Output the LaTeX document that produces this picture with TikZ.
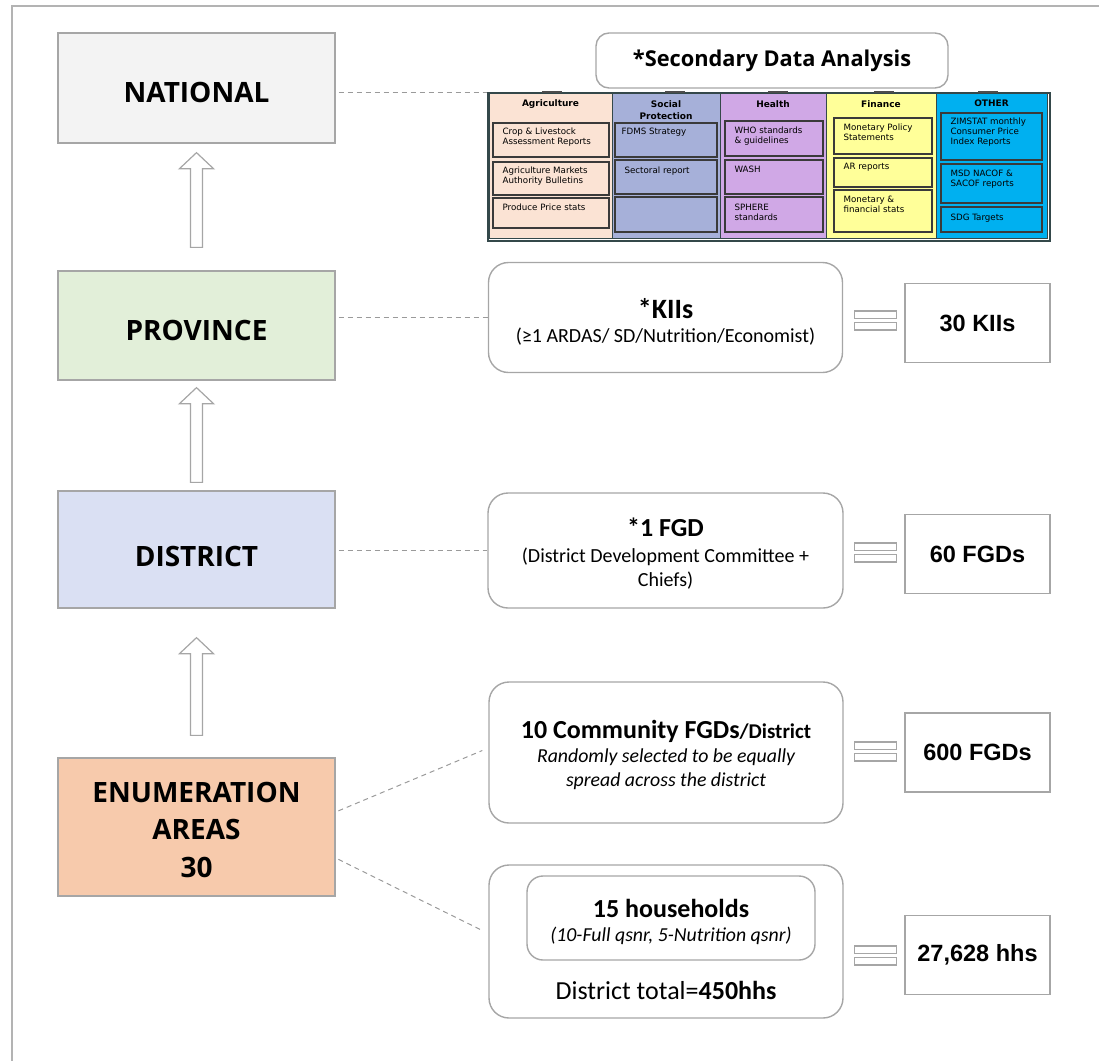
\documentclass[tikz,border=0pt]{standalone}
\usepackage{fontspec}
\setmainfont{Carlito}
\newfontfamily\fOS{Open Sans}
\newfontfamily\fAr{Liberation Sans}
\newfontfamily\fDV{DejaVu Sans}
\usetikzlibrary{calc}
\definecolor{frameg}{HTML}{B3B3B3}
\definecolor{boxg}{HTML}{A6A6A6}
\definecolor{dashg}{HTML}{9A9A9A}
\definecolor{natfill}{HTML}{F3F3F3}
\definecolor{provfill}{HTML}{E2EFD9}
\definecolor{distfill}{HTML}{DAE0F3}
\definecolor{eafill}{HTML}{F7CAAC}
\definecolor{agrc}{HTML}{FBE3D4}
\definecolor{socc}{HTML}{A6B0D9}
\definecolor{heac}{HTML}{D0A8E6}
\definecolor{finc}{HTML}{FFFF99}
\definecolor{othc}{HTML}{00B0F0}
\definecolor{tabline}{HTML}{34484A}
\definecolor{iline}{HTML}{3A3A3A}
\newcommand\blockarrow[2]{%
  \draw[blockarr] let \p1=(#1), \p2=(#2) in
    (\x1,\y1) -- (\x1+17pt,\y1-16pt) -- (\x1+6pt,\y1-16pt) -- (\x1+6pt,\y2)
    -- (\x1-6pt,\y2) -- (\x1-6pt,\y1-16pt) -- (\x1-17pt,\y1-16pt) -- cycle;}
\begin{document}
\begin{tikzpicture}[x=1pt,y=-1pt,
  level/.style={draw=boxg, line width=1.3pt, minimum width=277pt, inner sep=0pt},
  leveltext/.style={inner sep=0pt, align=center, font=\fOS\bfseries\fontsize{28}{37.5}\selectfont},
  blockarr/.style={draw=boxg, line width=1.2pt, fill=white},
  rbox/.style={draw=boxg, line width=1.4pt, fill=white, rounded corners=20pt, inner sep=0pt},
  valbox/.style={draw=boxg, line width=1.4pt, fill=white, minimum width=145pt,
     minimum height=79pt, inner sep=0pt, font=\fAr\bfseries\fontsize{23.5}{27}\selectfont},
  dline/.style={draw=dashg, line width=1pt, dash pattern=on 5pt off 4pt},
  col/.style={draw=tabline, line width=0.8pt, anchor=north west, minimum height=145pt, inner sep=0pt},
  colhead/.style={inner sep=0pt, align=center, font=\fDV\bfseries\fontsize{9}{11.5}\selectfont},
  ibox/.style={draw=iline, line width=1.3pt, inner sep=0pt},
  itext/.style={inner sep=0pt, anchor=north west, align=left, font=\fDV\fontsize{8.7}{10.3}\selectfont},
  tb/.style={inner sep=0pt, font=\bfseries\fontsize{26}{30}\selectfont},
  tn/.style={inner sep=0pt, font=\fontsize{20}{24}\selectfont},
  ti/.style={inner sep=0pt, font=\itshape\fontsize{19.8}{24}\selectfont},
  eqsign/.pic={\draw[draw=boxg, line width=1.2pt, fill=white] (-21,-9.5) rectangle (21,-2)
                (-21,2) rectangle (21,9.5);}
]
\useasboundingbox (0,0) rectangle (1099,1060);
\clip (0,0) rectangle (1099,1060);
\draw[frameg, line width=1.5pt] (12,6) rectangle (1130,1090);

% ---------- level boxes ----------
\node[level, fill=natfill, minimum height=110pt] (nat) at (196.5,88) {};
\node[level, fill=provfill, minimum height=109pt] (prov) at (196.5,325.5) {};
\node[level, fill=distfill, minimum height=117pt] (dist) at (196.5,549.5) {};
\node[level, fill=eafill, minimum height=138pt] (ea) at (196.5,827) {};
\node[leveltext] (natt) at ($(nat.center)+(0,4)$) {NATIONAL};
\node[leveltext] (provt) at ($(prov.center)+(0,4.5)$) {PROVINCE};
\node[leveltext] (distt) at ($(dist.center)+(0,7)$) {DISTRICT};
\node[leveltext] (eat) at ($(ea.center)+(0,2.5)$) {ENUMERATION\\AREAS\\30};

\blockarrow{$(nat.south)+(0,9)$}{$(prov.north)+(0,-23)$}
\blockarrow{$(prov.south)+(0,7)$}{$(dist.north)+(0,-8)$}
\blockarrow{$(dist.south)+(0,29)$}{$(ea.north)+(0,-22)$}

% ---------- secondary data ----------
\node[rbox, rounded corners=13pt, minimum width=352pt, minimum height=55pt,
      font=\fOS\bfseries\fontsize{21.8}{25}\selectfont] (sda) at (772,60.5) {*Secondary Data Analysis};

% columns
\node[col, fill=agrc, minimum width=123pt] (cagr) at (489,93) {};
\node[col, fill=socc, minimum width=108pt] (csoc) at (612,93) {};
\node[col, fill=heac, minimum width=106pt] (chea) at (720,93) {};
\node[col, fill=finc, minimum width=110pt] (cfin) at (826,93) {};
\node[col, fill=othc, minimum width=111pt] (coth) at (936,93) {};

\node[colhead] (hagr) at (550.5,104) {Agriculture};
\node[colhead] (hsoc) at (666,110) {Social\\Protection};
\node[colhead] (hhea) at (773,104) {Health};
\node[colhead] (hfin) at (881,104) {Finance};
\node[colhead] (hoth) at (991.5,103) {OTHER};

% agriculture boxes
\node[ibox, fill=agrc, minimum width=116pt, minimum height=34pt] (a1) at (551,140) {};
\node[ibox, fill=agrc, minimum width=116pt, minimum height=33pt] (a2) at (551,178.5) {};
\node[ibox, fill=agrc, minimum width=116pt, minimum height=30pt] (a3) at (551,213) {};
\node[itext] (a1t) at ($(a1.north west)+(10,5)$) {Crop \& Livestock\\Assessment Reports};
\node[itext] (a2t) at ($(a2.north west)+(10,5)$) {Agriculture Markets\\Authority Bulletins};
\node[itext] (a3t) at ($(a3.north west)+(10,6)$) {Produce Price stats};
% social protection boxes
\node[ibox, fill=socc, minimum width=102pt, minimum height=34pt] (s1) at (666,140) {};
\node[ibox, fill=socc, minimum width=102pt, minimum height=34pt] (s2) at (666,177) {};
\node[ibox, fill=socc, minimum width=102pt, minimum height=35pt] (s3) at (666,214.5) {};
\node[itext] (s1t) at ($(s1.north west)+(7,5)$) {FDMS Strategy};
\node[itext] (s2t) at ($(s2.north west)+(10,7)$) {Sectoral report};
% health boxes
\node[ibox, fill=heac, minimum width=98pt, minimum height=35pt] (h1) at (774,138.5) {};
\node[ibox, fill=heac, minimum width=98pt, minimum height=34pt] (h2) at (774,177) {};
\node[ibox, fill=heac, minimum width=98pt, minimum height=35pt] (h3) at (774,214.5) {};
\node[itext] (h1t) at ($(h1.north west)+(10,6)$) {WHO standards\\\& guidelines};
\node[itext] (h2t) at ($(h2.north west)+(10,6)$) {WASH};
\node[itext] (h3t) at ($(h3.north west)+(10,7)$) {SPHERE\\standards};
% finance boxes
\node[ibox, fill=finc, minimum width=98pt, minimum height=36pt] (f1) at (883,136) {};
\node[ibox, fill=finc, minimum width=98pt, minimum height=29pt] (f2) at (883,172.5) {};
\node[ibox, fill=finc, minimum width=98pt, minimum height=42pt] (f3) at (883,211) {};
\node[itext] (f1t) at ($(f1.north west)+(10,6)$) {Monetary Policy\\Statements};
\node[itext] (f2t) at ($(f2.north west)+(10,6)$) {AR reports};
\node[itext] (f3t) at ($(f3.north west)+(10,6)$) {Monetary \&\\financial stats};
% other boxes
\node[ibox, fill=othc, minimum width=101pt, minimum height=47pt] (o1) at (991.5,136.5) {};
\node[ibox, fill=othc, minimum width=101pt, minimum height=39pt] (o2) at (991.5,183.5) {};
\node[ibox, fill=othc, minimum width=101pt, minimum height=25pt] (o3) at (991.5,219.5) {};
\node[itext] (o1t) at ($(o1.north west)+(10,5)$) {ZIMSTAT monthly\\Consumer Price\\Index Reports};
\node[itext] (o2t) at ($(o2.north west)+(10,6)$) {MSD NACOF \&\\SACOF reports};
\node[itext] (o3t) at ($(o3.north west)+(10,7)$) {SDG Targets};

% table frame
\node[draw=tabline, line width=2pt, anchor=north west, minimum width=562pt,
      minimum height=148pt, inner sep=0pt] (tab) at (487,92) {};
\foreach \xx in {542,665,768,874,978}
  \fill[gray!60!black] (\xx,90.5) rectangle ++(20,2.5);

% ---------- right side boxes ----------
\node[rbox, minimum width=354pt, minimum height=110pt] (kii) at (665.5,317.5) {};
\node[tb, font=\bfseries\fontsize{28}{32}\selectfont] (kiit1) at ($(kii.center)+(0,-9)$) {*KIIs};
\node[tn] (kiit2) at ($(kii.center)+(0,19)$) {(≥1 ARDAS/ SD/Nutrition/Economist)};

\node[rbox, minimum width=355pt, minimum height=115pt] (fgd) at (665.5,550.5) {};
\node[tb] (fgdt1) at ($(fgd.center)+(0,-23)$) {*1 FGD};
\node[tn] (fgdt2) at ($(fgd.center)+(0,6)$) {(District Development Committee +};
\node[tn] (fgdt3) at ($(fgd.center)+(0,30)$) {Chiefs)};

\node[rbox, minimum width=354pt, minimum height=141pt] (comm) at (666,752.5) {};
\node[tb] (commt1) at ($(comm.center)+(0,-21.5)$)
   {10 Community FGDs{\fontsize{21}{24}\selectfont/District}};
\node[ti] (commt2) at ($(comm.center)+(0,4.5)$) {Randomly selected to be equally};
\node[ti] (commt3) at ($(comm.center)+(0,28.5)$) {spread across the district};

\node[rbox, minimum width=354pt, minimum height=153pt] (hh) at (666,941.5) {};
\node[rbox, rounded corners=16pt, minimum width=288pt, minimum height=84pt] (hhin) at (671,918) {};
\node[tb] (hht1) at ($(hhin.center)+(0,-10)$) {15 households};
\node[ti] (hht2) at ($(hhin.center)+(0,18)$) {(10-Full qsnr, 5-Nutrition qsnr)};
\node[tn, font=\fontsize{26}{30}\selectfont] (hht3) at ($(hh.center)+(0,48.5)$) {District total=\textbf{450hhs}};

% ---------- value boxes ----------
\node[valbox] (v1) at (977.5,323) {30 KIIs};
\node[valbox] (v2) at (977.5,554) {60 FGDs};
\node[valbox] (v3) at (977.5,752.5) {600 FGDs};
\node[valbox] (v4) at (977.5,955) {27,628 hhs};
\pic at ($(v1.west)+(-29,-2.5)$) {eqsign};
\pic at ($(v2.west)+(-29,-1.5)$) {eqsign};
\pic at ($(v3.west)+(-29,-1)$) {eqsign};
\pic at ($(v4.west)+(-29,0.5)$) {eqsign};

% ---------- dashed connectors ----------
\coordinate (natline) at ([yshift=-4pt]nat.east);
\draw[dline, shorten <=3pt] (natline) -- (natline -| tab.west);
\draw[dline, shorten <=3pt] (prov.east |- kii.west) -- (kii.west);
\draw[dline, shorten <=3pt] (dist.east |- fgd.west) -- (fgd.west);
\draw[dline, shorten <=3pt] ([yshift=15pt]ea.east) -- ($(comm.west)+(-6,-2)$);
\draw[dline, shorten <=3pt] ([yshift=-31pt]ea.east) -- ($(hh.west)+(-6,-11)$);
\end{tikzpicture}
\end{document}
